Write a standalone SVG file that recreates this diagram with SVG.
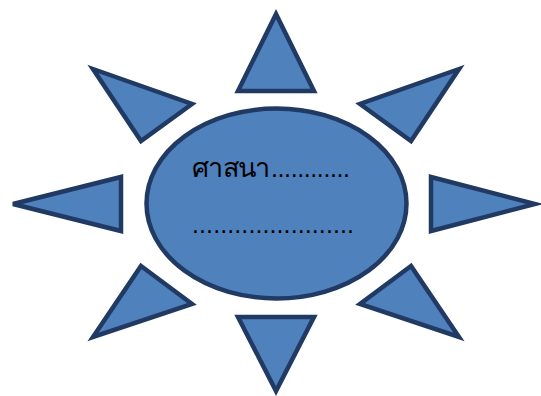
<svg xmlns="http://www.w3.org/2000/svg" width="541" height="396" viewBox="0 0 541 396">
<style>
.s{fill:#4F81BD;stroke:#203A63;stroke-width:4.5;stroke-linejoin:miter}
.t{font-family:"Liberation Sans","Noto Sans",sans-serif;font-size:25px;fill:#000}
.th{font-size:27px}
</style>
<rect width="541" height="396" fill="#fff"/>
<g id="ray-top"><polygon class="s" points="276,14 314,91 238,91"/></g>
<g id="ray-upper-left"><polygon class="s" points="93,69 192,104 141,141"/></g>
<g id="ray-left"><polygon class="s" points="13,204 121,177 121,231"/></g>
<g id="ray-lower-left"><polygon class="s" points="141,266 192,304 93,337"/></g>
<g id="ray-bottom"><polygon class="s" points="238,317 314,317 276,391"/></g>
<g id="ray-lower-right"><polygon class="s" points="411,266 360,304 459,337"/></g>
<g id="ray-right"><polygon class="s" points="431,177 535,204 431,231"/></g>
<g id="ray-upper-right"><polygon class="s" points="459,69 360,104 411,141"/></g>
<g id="center">
<ellipse class="s" cx="276.5" cy="203.5" rx="130" ry="95"/>
<text class="t" x="192" y="177"><tspan class="th" textLength="78">ศาสนา</tspan><tspan x="271" textLength="79">............</tspan></text>
<text class="t" x="192" y="233" textLength="162">.......................</text>
</g>
</svg>
